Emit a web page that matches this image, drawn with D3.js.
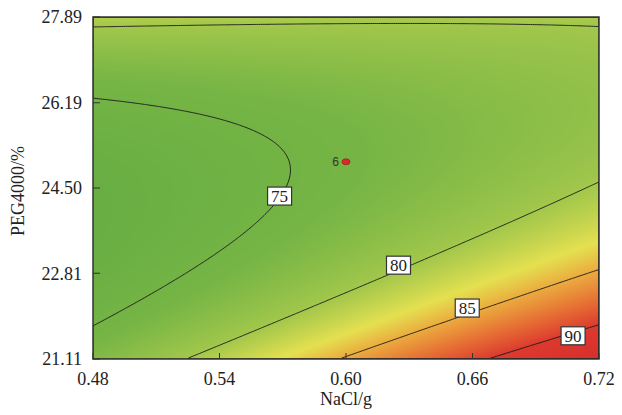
<!DOCTYPE html>
<html>
<head>
<meta charset="utf-8">
<script src="https://cdn.jsdelivr.net/npm/d3@7"></script>
<style>
  body { margin: 0; background: #fff; }
</style>
</head>
<body>
<div id="chart"></div>
<script>
// axis ticks
const xTicks = [0.48, 0.54, 0.60, 0.66, 0.72];
const yTicks = [21.11, 22.81, 24.50, 26.19, 27.89];

// fitted quadratic model in coded units (A = NaCl, B = PEG4000)
const modelTerms = ['b0', 'A', 'B', 'AB', 'A2', 'B2'];
const modelCoefs = [75.96, 4.07, -2.40, -4.33, 0.2, 6.87];

// contour levels and where their labels sit (data units)
const levels = [75, 80, 85, 90];
const labelX = [0.5685, 0.6249, 0.6575, 0.7077];
const labelY = [24.34, 22.97, 22.12, 21.57];

// design point
const pointX = [0.60];
const pointY = [25.02];
const pointN = ['6'];

// colour ramp
const colorValues = [72, 76, 80, 83, 85, 87.5, 90, 94];
const colorRange = ['#68ae43', '#76b545', '#a2c74b', '#e4e050', '#ebab3e', '#e67034', '#dc3a2e', '#d82d2d'];

const serif = '"Liberation Serif", "Times New Roman", "DejaVu Serif", serif';

const width = 622, height = 415;
const margin = {top: 17, right: 23, bottom: 56, left: 93};
const w = width - margin.left - margin.right;
const h = height - margin.top - margin.bottom;

const x = d3.scaleLinear().domain([0.48, 0.72]).range([0, w]);
const y = d3.scaleLinear().domain([21.11, 27.89]).range([h, 0]);
const color = d3.scaleLinear().domain(colorValues).range(colorRange);

const b = Object.fromEntries(modelTerms.map((t, i) => [t, modelCoefs[i]]));
function response(xv, yv) {
  const A = (xv - 0.60) / 0.12;
  const B = (yv - 24.50) / 3.39;
  return b.b0 + b.A * A + b.B * B + b.AB * A * B + b.A2 * A * A + b.B2 * B * B;
}

const svg = d3.select('#chart').append('svg')
    .attr('width', width)
    .attr('height', height);

const g = svg.append('g')
    .attr('transform', `translate(${margin.left}, ${margin.top})`);

// colour surface painted on a canvas then placed as an image
const canvas = document.createElement('canvas');
canvas.width = w; canvas.height = h;
const ctx = canvas.getContext('2d');
const img = ctx.createImageData(w, h);
for (let j = 0; j < h; j++) {
  for (let i = 0; i < w; i++) {
    const c = d3.rgb(color(response(x.invert(i + 0.5), y.invert(j + 0.5))));
    const k = (j * w + i) * 4;
    img.data[k] = c.r; img.data[k + 1] = c.g; img.data[k + 2] = c.b; img.data[k + 3] = 255;
  }
}
ctx.putImageData(img, 0, 0);

g.append('image')
    .attr('width', w)
    .attr('height', h)
    .attr('preserveAspectRatio', 'none')
    .attr('href', canvas.toDataURL());

// contour lines
const nx = 240, ny = 170;
const grid = new Array(nx * ny);
for (let j = 0; j < ny; j++) {
  for (let i = 0; i < nx; i++) {
    const xv = x.invert((i + 0.5) / nx * w);
    const yv = y.invert((j + 0.5) / ny * h);
    grid[j * nx + i] = response(xv, yv);
  }
}
const contours = d3.contours().size([nx, ny]).thresholds(levels)(grid);
const gx = d3.scaleLinear().domain([0, nx]).range([0, w]);
const gy = d3.scaleLinear().domain([0, ny]).range([0, h]);
const path = d3.geoPath(d3.geoTransform({
  point: function(px, py) { this.stream.point(gx(px), gy(py)); }
}));

svg.append('clipPath').attr('id', 'plotclip')
  .append('rect').attr('width', w).attr('height', h);

g.append('g')
    .attr('clip-path', 'url(#plotclip)')
  .selectAll('path')
  .data(contours)
  .join('path')
    .attr('d', path)
    .attr('fill', 'none')
    .attr('stroke', '#1a1a1a')
    .attr('stroke-width', 0.9);

// frame
g.append('rect')
    .attr('width', w)
    .attr('height', h)
    .attr('fill', 'none')
    .attr('stroke', '#333')
    .attr('stroke-width', 1.5);

// inside ticks
g.selectAll('.ytick')
  .data(yTicks)
  .join('line')
    .attr('class', 'ytick')
    .attr('x1', 0).attr('x2', 7)
    .attr('y1', d => y(d)).attr('y2', d => y(d))
    .attr('stroke', '#333');

g.selectAll('.xtick')
  .data(xTicks)
  .join('line')
    .attr('class', 'xtick')
    .attr('x1', d => x(d)).attr('x2', d => x(d))
    .attr('y1', h).attr('y2', h - 6)
    .attr('stroke', '#333');

// tick labels
g.selectAll('.ylab')
  .data(yTicks)
  .join('text')
    .attr('class', 'ylab')
    .attr('x', -11)
    .attr('y', d => y(d))
    .attr('dy', '0.35em')
    .attr('text-anchor', 'end')
    .attr('fill', '#222')
    .style('font-family', serif)
    .style('font-size', '18px')
    .text(d => d.toFixed(2));

g.selectAll('.xlab')
  .data(xTicks)
  .join('text')
    .attr('class', 'xlab')
    .attr('x', d => x(d))
    .attr('y', h + 26)
    .attr('text-anchor', 'middle')
    .attr('fill', '#222')
    .style('font-family', serif)
    .style('font-size', '18px')
    .text(d => d.toFixed(2));

// axis titles
svg.append('text')
    .attr('x', margin.left + w / 2)
    .attr('y', 405)
    .attr('text-anchor', 'middle')
    .attr('fill', '#222')
    .style('font-family', serif)
    .style('font-size', '18px')
    .text('NaCl/g');

svg.append('text')
    .attr('transform', `translate(24, ${margin.top + h / 2 + 3}) rotate(-90)`)
    .attr('text-anchor', 'middle')
    .attr('fill', '#222')
    .style('font-family', serif)
    .style('font-size', '18px')
    .text('PEG4000/%');

// contour labels
const labels = g.selectAll('.clab')
  .data(levels)
  .join('g')
    .attr('class', 'clab')
    .attr('transform', (d, i) => `translate(${x(labelX[i])}, ${y(labelY[i])})`);

labels.append('rect')
    .attr('x', -12).attr('y', -9)
    .attr('width', 24).attr('height', 18)
    .attr('fill', '#fff')
    .attr('stroke', '#333')
    .attr('stroke-width', 1.2);

labels.append('text')
    .attr('text-anchor', 'middle')
    .attr('dy', '0.36em')
    .attr('fill', '#222')
    .style('font-family', serif)
    .style('font-size', '17px')
    .text(d => d);

// design point
const pts = g.selectAll('.pt')
  .data(pointX)
  .join('g')
    .attr('class', 'pt')
    .attr('transform', (d, i) => `translate(${x(d)}, ${y(pointY[i])})`);

pts.append('ellipse')
    .attr('rx', 4).attr('ry', 3)
    .attr('fill', '#e0262a')
    .attr('stroke', '#8a1a1a')
    .attr('stroke-width', 0.6);

pts.append('text')
    .attr('x', -7)
    .attr('dy', '0.35em')
    .attr('text-anchor', 'end')
    .attr('fill', '#333')
    .style('font-family', '"Liberation Sans", Arial, sans-serif')
    .style('font-size', '12px')
    .text((d, i) => pointN[i]);
</script>
</body>
</html>
